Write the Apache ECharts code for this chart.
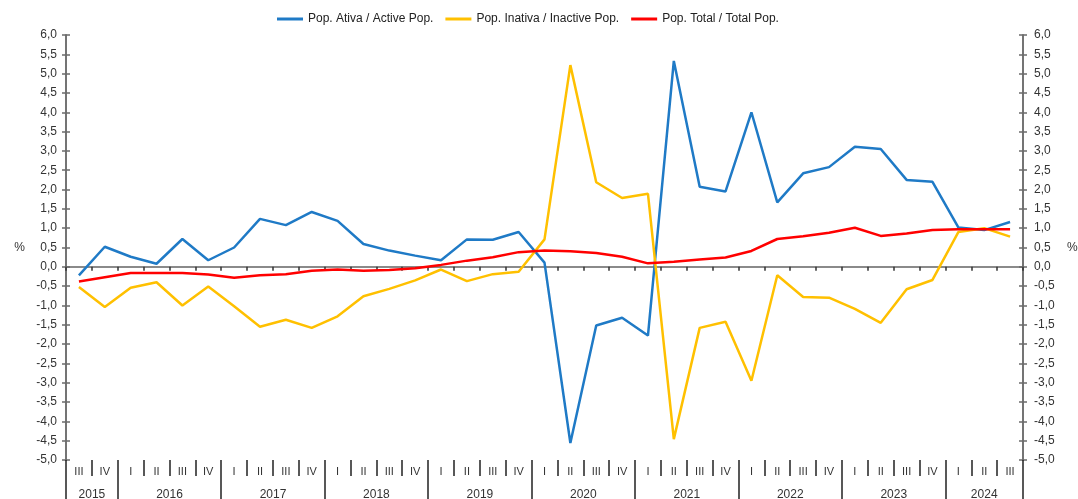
<!DOCTYPE html>
<html lang="pt">
<head>
  <meta charset="UTF-8">
  <title>Populacao ativa / inativa</title>
  <script src="https://cdn.jsdelivr.net/npm/echarts@6/dist/echarts.min.js"></script>
  <style>
    html, body { margin: 0; padding: 0; background: #fff; }
  </style>
</head>
<body>
<div id="chart" style="width: 1078px;height: 499px"></div>
<script>
  var quarters = ['III', 'IV',
    'I', 'II', 'III', 'IV',  'I', 'II', 'III', 'IV',  'I', 'II', 'III', 'IV',
    'I', 'II', 'III', 'IV',  'I', 'II', 'III', 'IV',  'I', 'II', 'III', 'IV',
    'I', 'II', 'III', 'IV',  'I', 'II', 'III', 'IV',  'I', 'II', 'III'];
  var years = ['2015', '2015',
    '2016', '2016', '2016', '2016',  '2017', '2017', '2017', '2017',  '2018', '2018', '2018', '2018',
    '2019', '2019', '2019', '2019',  '2020', '2020', '2020', '2020',  '2021', '2021', '2021', '2021',
    '2022', '2022', '2022', '2022',  '2023', '2023', '2023', '2023',  '2024', '2024', '2024'];

  var activePop = [-0.22, 0.52, 0.26, 0.08, 0.72, 0.17, 0.50, 1.24, 1.08, 1.42,
    1.19, 0.59, 0.42, 0.29, 0.17, 0.71, 0.70, 0.90, 0.11, -4.56,
    -1.52, -1.32, -1.78, 5.33, 2.07, 1.95, 4.00, 1.67, 2.42, 2.58,
    3.11, 3.05, 2.25, 2.20, 1.02, 0.95, 1.16];
  var inactivePop = [-0.52, -1.04, -0.54, -0.40, -1.00, -0.51, -1.02, -1.55, -1.37, -1.58,
    -1.28, -0.76, -0.57, -0.35, -0.07, -0.37, -0.19, -0.13, 0.71, 5.22,
    2.19, 1.78, 1.89, -4.46, -1.58, -1.42, -2.95, -0.22, -0.78, -0.80,
    -1.09, -1.45, -0.58, -0.34, 0.90, 1.00, 0.78];
  var totalPop = [-0.38, -0.27, -0.16, -0.16, -0.16, -0.20, -0.28, -0.22, -0.19, -0.10,
    -0.07, -0.10, -0.08, -0.04, 0.05, 0.16, 0.25, 0.38, 0.42, 0.40,
    0.36, 0.26, 0.09, 0.13, 0.19, 0.24, 0.41, 0.72, 0.79, 0.88,
    1.01, 0.80, 0.86, 0.95, 0.97, 0.97, 0.97];

  var font = 'Liberation Sans, Arial, sans-serif';
  var axisColor = '#6b6b6b';
  var textColor = '#333';

  function fmt(v) {
    return v.toFixed(1).replace('.', ',');
  }

  // first quarter of each year gets a long separator
  function yearStart(i) {
    return i === 0 || years[i] !== years[i - 1];
  }

  // year label goes on the middle quarter of its group
  function yearLabel(i) {
    var first = i, last = i;
    while (first > 0 && years[first - 1] === years[i]) first--;
    while (last < years.length - 1 && years[last + 1] === years[i]) last++;
    var n = last - first + 1;
    var mid = first + Math.floor((n - 1) / 2);
    if (i !== mid) return '';
    return n % 2 === 0 ? '{s|' + years[i] + '}' : '{n|' + years[i] + '}';
  }

  var yBase = {
    type: 'value', min: -5, max: 6, interval: 0.5,
    splitLine: {show: false},
    axisLine: {show: true, lineStyle: {color: axisColor, width: 1.5}},
    axisTick: {show: true, length: 4, lineStyle: {color: axisColor, width: 1.5}}
  };

  var chart = echarts.init(document.getElementById('chart'));

  var option = {
    animation: false,
    textStyle: {fontFamily: font},
    legend: {
      left: 272, top: 8,
      icon: 'rect', itemWidth: 26, itemHeight: 3, itemGap: 12,
      textStyle: {fontSize: 12, color: '#222', fontFamily: font},
      data: ['Pop. Ativa / Active Pop.', 'Pop. Inativa / Inactive Pop.', 'Pop. Total / Total Pop.']
    },
    grid: [
      {left: 66, right: 55, top: 35, bottom: 39, outerBoundsMode: 'none'},
      {left: 66, right: 55, top: 35, bottom: 39, outerBoundsMode: 'none'}
    ],
    xAxis: [
      { // zero line with small ticks
        gridIndex: 0, type: 'category', data: quarters, position: 'top',
        axisLine: {onZero: true, lineStyle: {color: '#8a8a8a', width: 2}},
        axisTick: {show: true, inside: true, length: 4, interval: 0, lineStyle: {color: '#333', width: 1.5}},
        axisLabel: {show: false},
        splitLine: {show: false}
      },
      { // quarters
        gridIndex: 0, type: 'category', data: quarters, position: 'bottom',
        axisLine: {show: false, onZero: false},
        axisTick: {show: true, length: 16, interval: 0, lineStyle: {color: '#222', width: 1.5}},
        axisLabel: {interval: 0, margin: 6, fontSize: 11, color: textColor, fontFamily: font},
        splitLine: {show: false}
      },
      { // years
        gridIndex: 1, type: 'category', data: years, position: 'bottom',
        axisLine: {show: false, onZero: false},
        axisTick: {show: true, length: 40, interval: function (i) { return yearStart(i); },
          lineStyle: {color: '#222', width: 1.5}},
        axisLabel: {
          interval: 0, margin: 29, fontSize: 12, color: textColor, fontFamily: font,
          formatter: function (v, i) { return yearLabel(i); },
          rich: {
            s: {fontSize: 12, color: textColor, fontFamily: font, padding: [0, 0, 0, 26]},
            n: {fontSize: 12, color: textColor, fontFamily: font}
          }
        },
        splitLine: {show: false}
      }
    ],
    yAxis: [
      Object.assign({}, yBase, {
        gridIndex: 0, position: 'left',
        name: '%', nameLocation: 'middle', nameRotate: 0, nameGap: 41,
        nameTextStyle: {fontSize: 12, color: textColor, fontFamily: font},
        axisLabel: {margin: 9, fontSize: 12, color: textColor, fontFamily: font, formatter: fmt}
      }),
      Object.assign({}, yBase, {
        gridIndex: 0, position: 'right',
        name: '%', nameLocation: 'middle', nameRotate: 0, nameGap: 44,
        nameTextStyle: {fontSize: 12, color: textColor, fontFamily: font},
        axisLabel: {margin: 11, fontSize: 12, color: textColor, fontFamily: font, formatter: fmt}
      }),
      Object.assign({}, yBase, {
        gridIndex: 1, position: 'left',
        axisTick: {show: true, inside: true, length: 4, lineStyle: {color: axisColor, width: 1.5}},
        axisLabel: {show: false}
      }),
      Object.assign({}, yBase, {
        gridIndex: 1, position: 'right',
        axisTick: {show: true, inside: true, length: 4, lineStyle: {color: axisColor, width: 1.5}},
        axisLabel: {show: false}
      })
    ],
    series: [
      {
        name: 'Pop. Ativa / Active Pop.', type: 'line', xAxisIndex: 1, yAxisIndex: 0,
        data: activePop, symbol: 'none', lineStyle: {color: '#1f7ac6', width: 2.5},
        itemStyle: {color: '#1f7ac6'}
      },
      {
        name: 'Pop. Inativa / Inactive Pop.', type: 'line', xAxisIndex: 1, yAxisIndex: 0,
        data: inactivePop, symbol: 'none', lineStyle: {color: '#ffc000', width: 2.5},
        itemStyle: {color: '#ffc000'}
      },
      {
        name: 'Pop. Total / Total Pop.', type: 'line', xAxisIndex: 1, yAxisIndex: 0,
        data: totalPop, symbol: 'none', lineStyle: {color: '#ff0000', width: 2.5},
        itemStyle: {color: '#ff0000'}
      },
      { // keeps the second grid alive
        type: 'line', xAxisIndex: 2, yAxisIndex: 2, data: [], silent: true
      }
    ]
  };

  chart.setOption(option);
</script>
</body>
</html>
